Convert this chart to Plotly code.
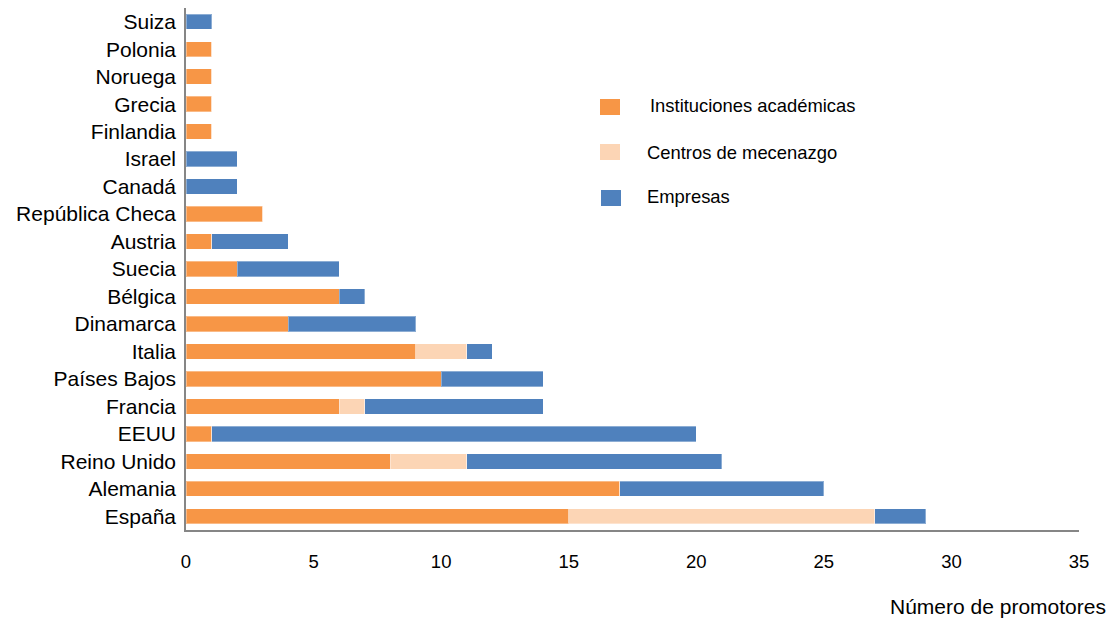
import plotly.graph_objects as go

# Countries, listed bottom to top
paises = ["España", "Alemania", "Reino Unido", "EEUU", "Francia", "Países Bajos",
          "Italia", "Dinamarca", "Bélgica", "Suecia", "Austria", "República Checa",
          "Canadá", "Israel", "Finlandia", "Grecia", "Noruega", "Polonia", "Suiza"]

academicas = [15, 17, 8, 1, 6, 10, 9, 4, 6, 2, 1, 3, 0, 0, 1, 1, 1, 1, 0]
mecenazgo  = [12, 0, 3, 0, 1, 0, 2, 0, 0, 0, 0, 0, 0, 0, 0, 0, 0, 0, 0]
empresas   = [2, 8, 10, 19, 7, 4, 1, 5, 1, 4, 3, 0, 2, 2, 0, 0, 0, 0, 1]

series = ["Instituciones académicas", "Centros de mecenazgo", "Empresas"]
colores = ["#F79646", "#FCD5B5", "#4F81BD"]
valores = [academicas, mecenazgo, empresas]

x_ticks = [0, 5, 10, 15, 20, 25, 30, 35]

fig = go.Figure()
for nombre, color, vals in zip(series, colores, valores):
    fig.add_trace(go.Bar(
        y=paises, x=vals, name=nombre, orientation="h",
        marker=dict(color=color, line=dict(color="rgba(255,255,255,0.35)", width=1)),
        width=0.56, showlegend=False,
    ))

# Hand-placed legend: colour swatches plus labels
leg_sw = [(0.4636, 0.486, 0.795, 0.8257), (0.4636, 0.486, 0.7088, 0.7395),
          (0.4647, 0.4871, 0.6207, 0.6513)]
leg_txt = [(0.5174, 0.8123), (0.5140, 0.7241), (0.5140, 0.6398)]
for nombre, color, (x0, x1, y0, y1), (tx, ty) in zip(series, colores, leg_sw, leg_txt):
    fig.add_shape(type="rect", xref="paper", yref="paper", x0=x0, x1=x1, y0=y0, y1=y1,
                  fillcolor=color, line=dict(width=0))
    fig.add_annotation(xref="paper", yref="paper", x=tx, y=ty, text=nombre,
                       showarrow=False, xanchor="left", yanchor="middle",
                       font=dict(family="Liberation Sans, Arial", size=18.4, color="#000000"))

fig.add_annotation(xref="paper", yref="paper", x=0.909, y=-0.1475,
                   text="Número de promotores", showarrow=False,
                   xanchor="center", yanchor="middle",
                   font=dict(family="Liberation Sans, Arial", size=21, color="#000000"))

fig.update_layout(
    barmode="stack",
    width=1115, height=621,
    margin=dict(l=186, r=36, t=8, b=91),
    paper_bgcolor="white", plot_bgcolor="white",
    bargap=0.44,
)
fig.update_xaxes(
    range=[0, 35], tickvals=x_ticks, ticktext=[str(v) for v in x_ticks],
    showgrid=False, zeroline=False, showline=True, linecolor="#868686", linewidth=1.5,
    ticks="", ticklabelstandoff=14,
    tickfont=dict(family="Liberation Sans, Arial", size=18.5, color="#000000"),
)
fig.update_yaxes(
    showgrid=False, zeroline=False, showline=True, linecolor="#868686", linewidth=1.5,
    ticks="", ticklabelstandoff=4,
    tickfont=dict(family="Liberation Sans, Arial", size=21, color="#000000"),
)

fig.write_html("out.html")
